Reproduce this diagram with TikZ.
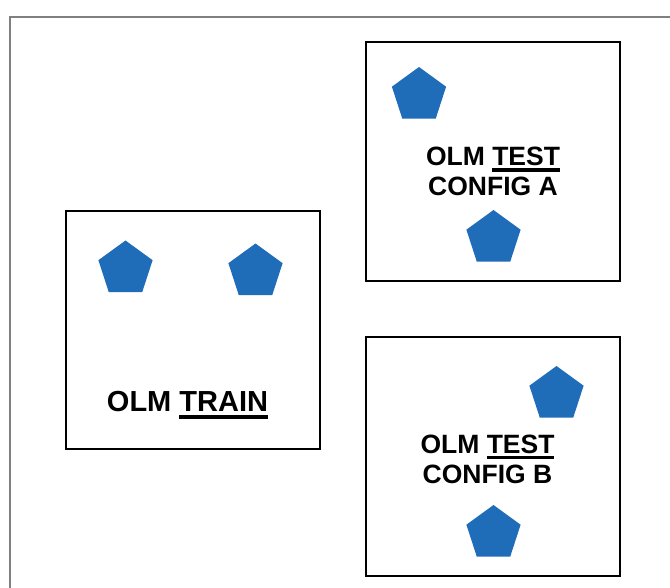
\documentclass[tikz,border=0pt]{standalone}
\usepackage{fontspec}
\setmainfont{Liberation Sans}
\usetikzlibrary{shapes.geometric}
\definecolor{pentblue}{RGB}{31,108,185}
\definecolor{framegray}{RGB}{128,128,128}
\newcommand\myul[2]{\setbox0\hbox{#2}\rlap{\rule[-#1]{\wd0}{3.3pt}}\box0}
\tikzset{
  panel/.style={draw=black,line width=2pt},
  pent/.style={regular polygon,regular polygon sides=5,fill=pentblue,draw=none,inner sep=0pt,outer sep=0pt,minimum size=57pt},
  lbl/.style={font=\bfseries\fontsize{26.5}{30}\selectfont,align=center,inner sep=0pt},
  trainlbl/.style={font=\bfseries\fontsize{29}{33}\selectfont,inner sep=0pt}
}
\begin{document}
\begin{tikzpicture}[x=1pt,y=-1pt]
\useasboundingbox (0,0) rectangle (670,587);
% outer frame
\coordinate (fbl) at (10,590);
\coordinate (ftl) at (10,17);
\coordinate (ftr) at (673,17);
\draw[framegray,line width=2pt] (fbl) -- (ftl) -- (ftr);
% panels
\node[panel,minimum width=254pt,minimum height=238pt,inner sep=0pt] (train) at (193,330) {};
\node[panel,minimum width=254pt,minimum height=239pt,inner sep=0pt] (testA) at (493,161.5) {};
\node[panel,minimum width=254pt,minimum height=239pt,inner sep=0pt] (testB) at (493,456.5) {};
% pentagons
\node[pent] (p1) at (125.5,269) {};
\node[pent] (p2) at (255.5,272) {};
\node[pent] (p3) at (419,95.5) {};
\node[pent] (p4) at (493.5,238.5) {};
\node[pent] (p5) at (556.5,394.5) {};
\node[pent] (p6) at (493.5,533.5) {};
% labels
\node[trainlbl,anchor=base] (ltrain) at (187.5,411) {OLM \myul{7.6pt}{TRAIN}};
\node[lbl] (ltestA) at (493,171.5) {OLM \myul{6pt}{TEST}\\CONFIG A};
\node[lbl] (ltestB) at (487.5,459) {OLM \myul{6pt}{TEST}\\CONFIG B};
\end{tikzpicture}
\end{document}
